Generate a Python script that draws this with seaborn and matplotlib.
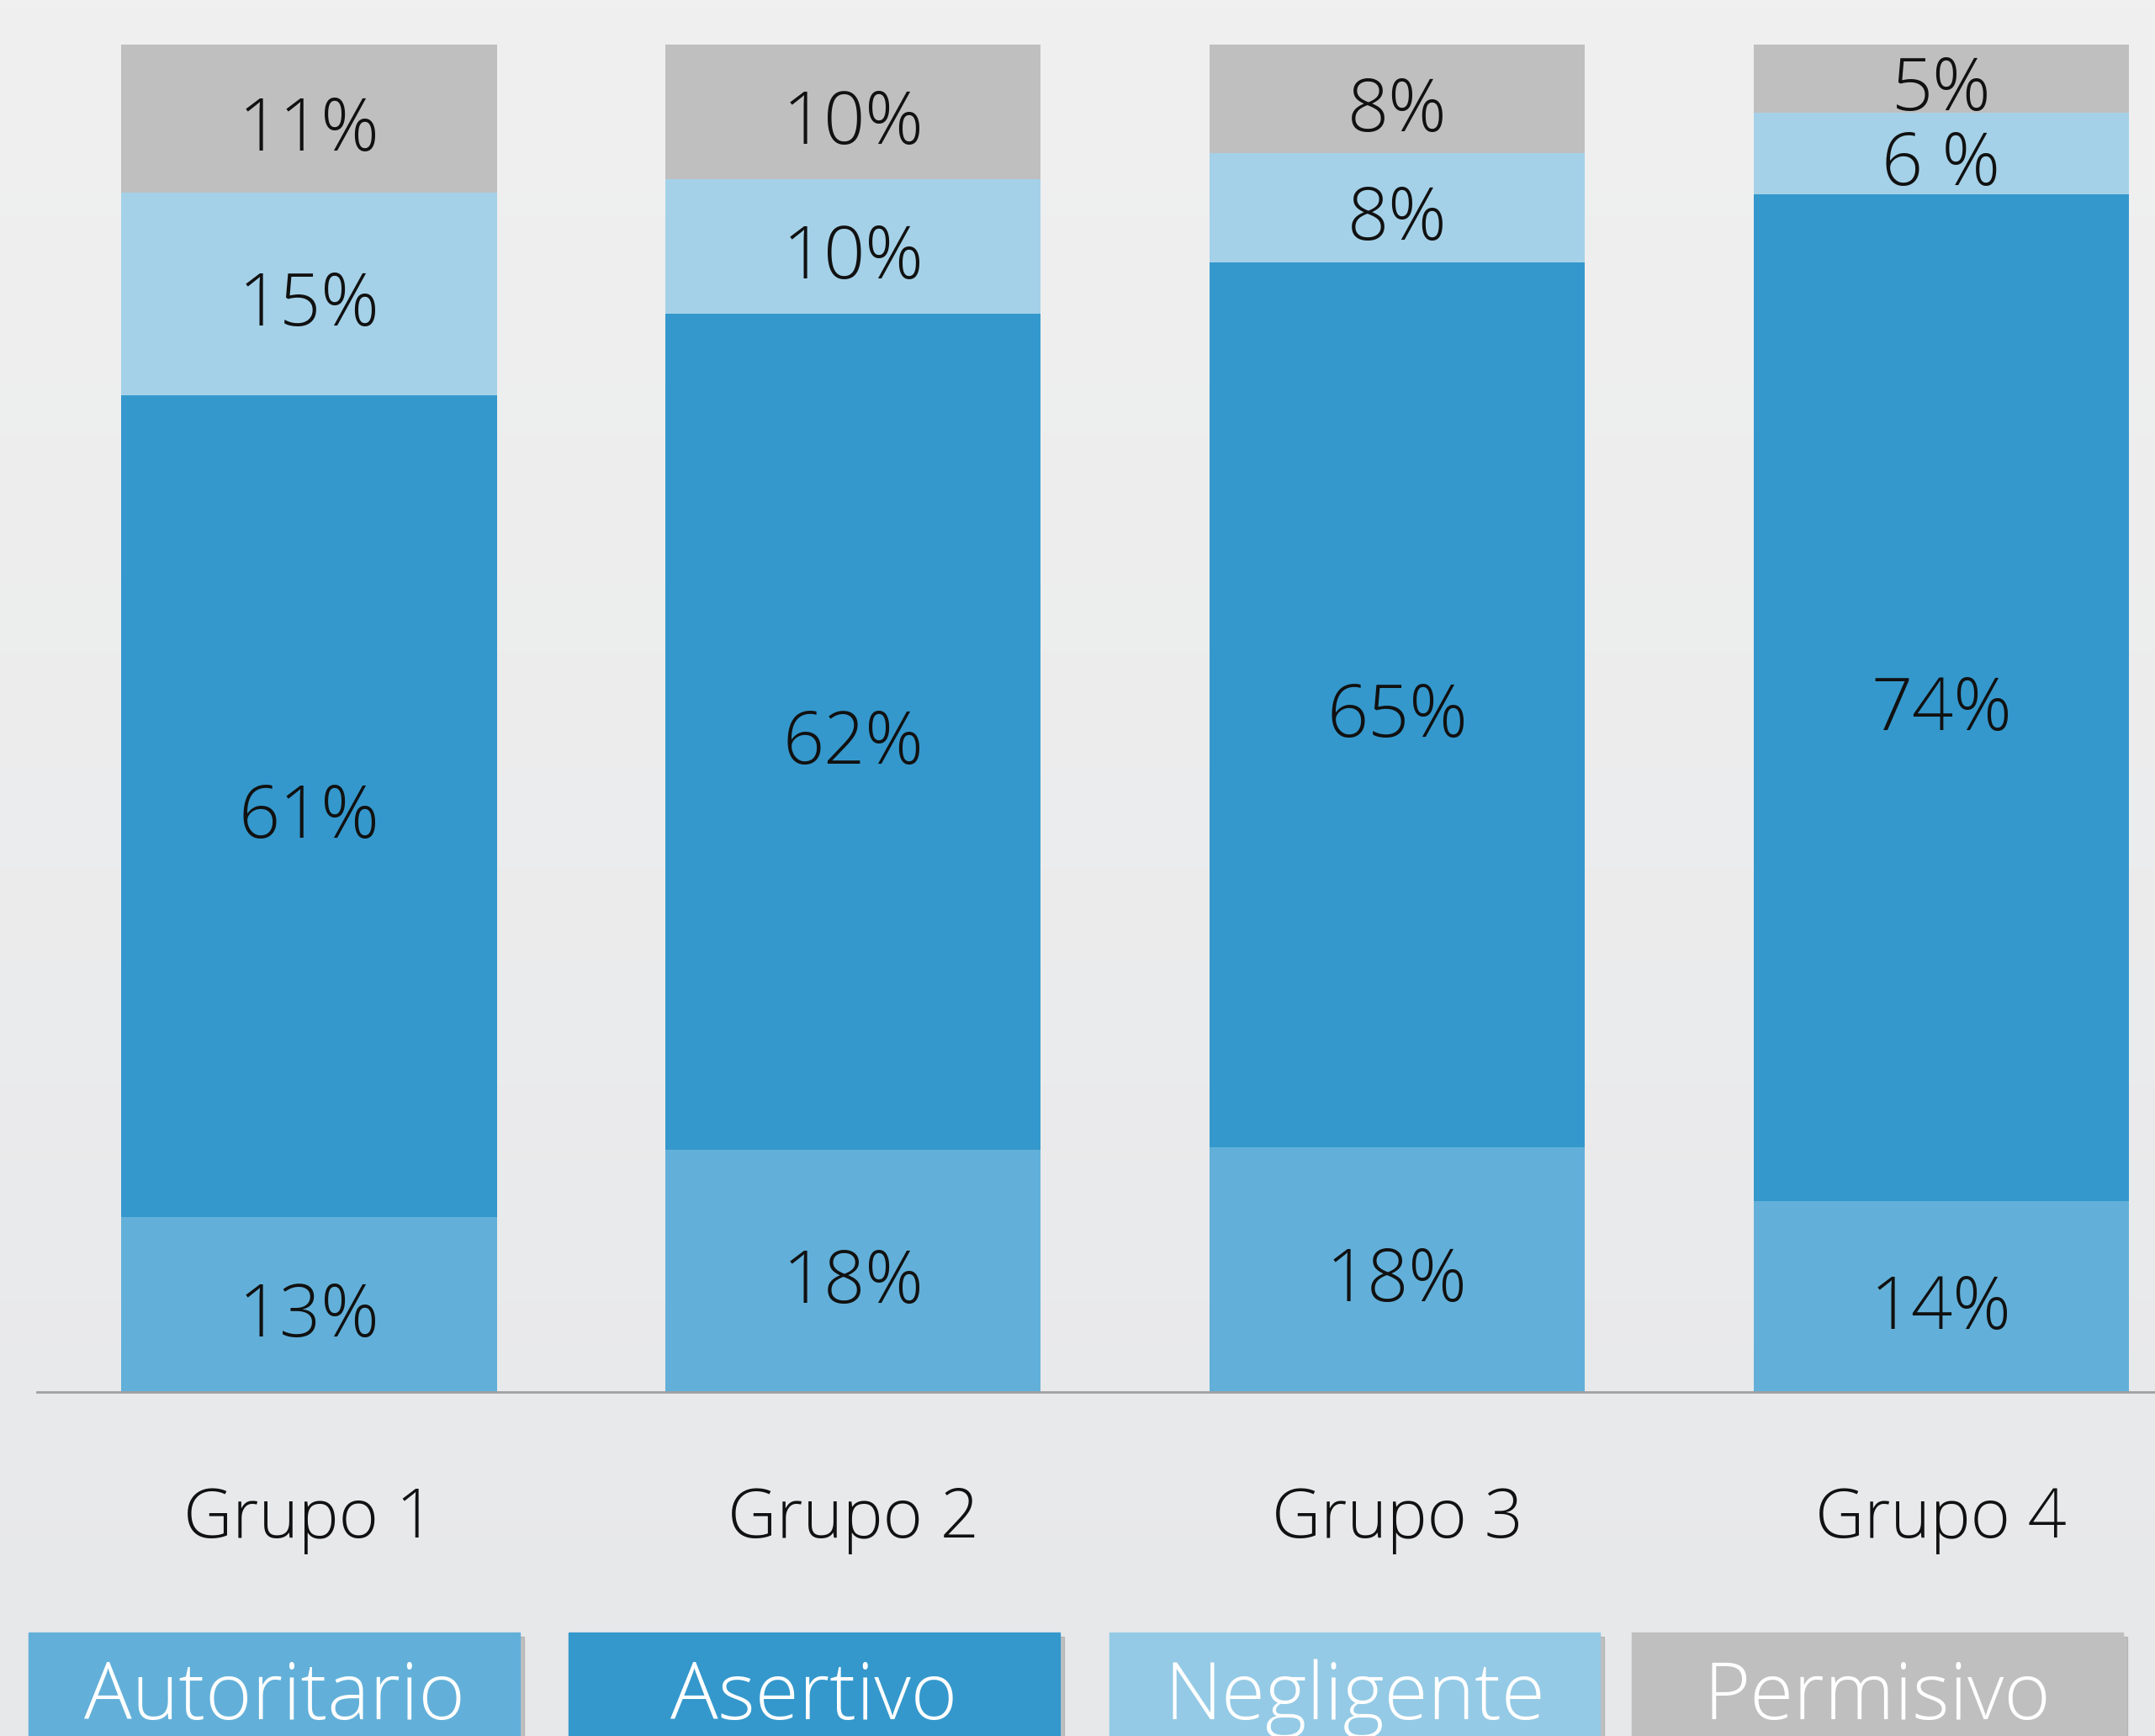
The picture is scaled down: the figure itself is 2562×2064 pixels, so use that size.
import numpy as np
import pandas as pd
import matplotlib.pyplot as plt
import seaborn as sns
from matplotlib.patches import Rectangle

# data
grupos = ['Grupo 1', 'Grupo 2', 'Grupo 3', 'Grupo 4']
series = ['Autoritario', 'Asertivo', 'Negligente', 'Permisivo']
autoritario = [13, 18, 18, 14]
asertivo = [61, 62, 65, 74]
negligente = [15, 10, 8, 6]
permisivo = [11, 10, 8, 5]
etiquetas = [
    ['13%', '18%', '18%', '14%'],
    ['61%', '62%', '65%', '74%'],
    ['15%', '10%', '8%', '6 %'],
    ['11%', '10%', '8%', '5%'],
]
colores_barra = ['#62B0D9', '#3498CC', '#A4D1E8', '#BFBFBF']
colores_leyenda = ['#62B0D9', '#3498CC', '#94CAE5', '#BFBFBF']

sns.set_style('white')
plt.rcParams['font.family'] = ['Open Sans', 'DejaVu Sans']

df = pd.DataFrame({'grupo': grupos, 'Autoritario': autoritario, 'Asertivo': asertivo,
                   'Negligente': negligente, 'Permisivo': permisivo})
total = df[series].sum(axis=1)
pct = df[series].div(total, axis=0) * 100
cum = pct.cumsum(axis=1)

fig = plt.figure(figsize=(25.62, 20.64), dpi=100)

# fondo degradado
bg = fig.add_axes([0, 0, 1, 1], zorder=-10)
grad = np.linspace(0, 1, 256).reshape(-1, 1)
c_top = np.array([0xF0, 0xF0, 0xF0]) / 255
c_bot = np.array([0xE7, 0xE8, 0xEA]) / 255
img = c_top + (c_bot - c_top) * grad[..., None]
bg.imshow(img, aspect='auto', extent=[0, 1, 0, 1])
bg.axis('off')

ax = fig.add_axes([44 / 2562, 1 - 1655 / 2064, 1 - 44 / 2562, (1655 - 53) / 2064])
ax.patch.set_alpha(0)

# barras apiladas: se dibuja el acumulado de arriba hacia abajo
for i in reversed(range(len(series))):
    sns.barplot(x=df['grupo'], y=cum[series[i]], color=colores_barra[i],
                width=0.69, saturation=1, ax=ax, linewidth=0, order=grupos)

for i, s in enumerate(series):
    for j in range(len(grupos)):
        ax.annotate(etiquetas[i][j], (j, cum[s][j] - pct[s][j] / 2),
                    xytext=(0, -11), textcoords='offset points',
                    ha='center', va='center', fontsize=62, fontweight='light', color='#111111')

ax.set_xlim(-0.5, 3.393)
ax.set_ylim(0, 100)
ax.set_xlabel('')
ax.set_ylabel('')
ax.set_yticks([])
ax.tick_params(axis='x', length=0, pad=80, labelsize=58, labelcolor='#111111')
for lbl in ax.get_xticklabels():
    lbl.set_fontweight('light')
for sp in ['top', 'right', 'left']:
    ax.spines[sp].set_visible(False)
ax.spines['bottom'].set_color('#A0A0A0')
ax.spines['bottom'].set_linewidth(2)

# leyenda en cajas de color
W, H = 2562, 2064
cajas = [(34, 618), (676, 1260), (1319, 1902), (1940, 2524)]
for (x0, x1), nombre, col in zip(cajas, series, colores_leyenda):
    sombra = Rectangle((x0 / W + 5 / W, 0), (x1 - x0) / W, (H - 1946) / H,
                       transform=fig.transFigure, color='#9A9A9A', alpha=0.5, zorder=1)
    caja = Rectangle((x0 / W, 0), (x1 - x0) / W, (H - 1941) / H,
                     transform=fig.transFigure, color=col, zorder=2)
    fig.add_artist(sombra)
    fig.add_artist(caja)
    fig.text((x0 + x1) / 2 / W, 1 - 2020 / H, nombre, ha='center', va='center',
             fontsize=68, fontweight='light', color='white', zorder=3)

plt.savefig('out.png', dpi=100)
